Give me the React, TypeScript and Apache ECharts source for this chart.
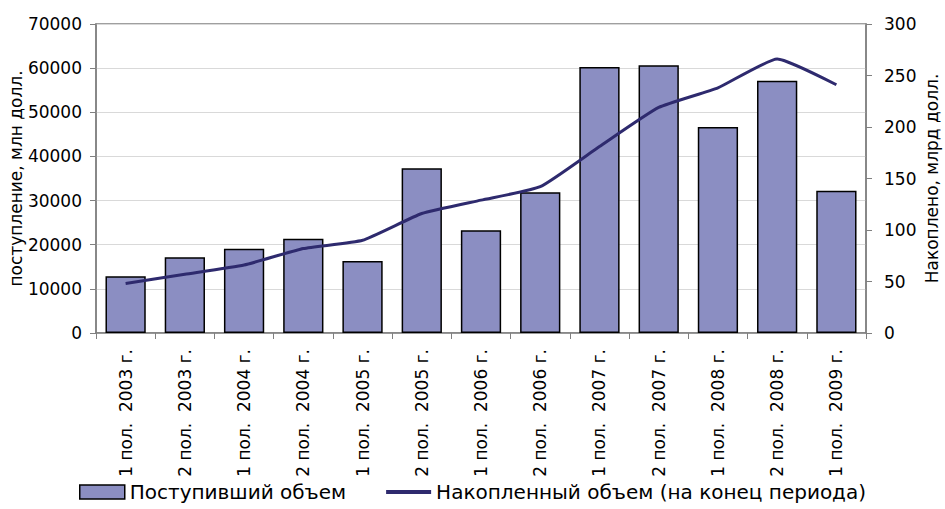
import React, { useEffect, useRef } from "react";
import * as echarts from "echarts";

const categories = [
  "1 пол.  2003 г.", "2 пол.  2003 г.", "1 пол.  2004 г.", "2 пол.  2004 г.",
  "1 пол.  2005 г.", "2 пол.  2005 г.", "1 пол.  2006 г.", "2 пол.  2006 г.",
  "1 пол.  2007 г.", "2 пол.  2007 г.", "1 пол.  2008 г.", "2 пол.  2008 г.",
  "1 пол.  2009 г.",
];
const inflow = [12850, 17150, 19100, 21350, 16300, 37300, 23300, 31900, 60250, 60650, 46650, 57150, 32250];
const accumulated = [48, 57, 66, 82, 90, 116, 129, 142, 181, 219, 238, 266, 241];

const FONT = "DejaVu Sans";
const LINE_ICON = "path://M0,0L0.1,0L0.1,0.1Z M0,5L45,5L45,9L0,9Z M44.9,13.9L45,14L44.9,14Z";

export default function App() {
  const ref = useRef<HTMLDivElement>(null);
  useEffect(() => {
    const chart = echarts.init(ref.current!, null, { renderer: "svg" });
    chart.setOption({
      animation: false,
      textStyle: { fontFamily: FONT, color: "#000" },
      grid: {
        left: 96, right: 79, top: 24, bottom: 176,
        containLabel: false, outerBoundsMode: "none",
        show: true, borderColor: "#808080", borderWidth: 1.5,
      },
      legend: {
        bottom: 2,
        left: "center",
        itemWidth: 45,
        itemHeight: 14,
        itemGap: 40,
        textStyle: { fontFamily: FONT, fontSize: 20, color: "#000" },
        data: [
          { name: "Поступивший объем", icon: "rect", itemStyle: { color: "#8b8ec2", borderColor: "#000", borderWidth: 1.5 } },
          { name: "Накопленный объем (на конец периода)", icon: LINE_ICON, itemStyle: { color: "#2e2a6e", borderWidth: 0 } },
        ],
      },
      xAxis: {
        type: "category",
        data: categories,
        axisLine: { lineStyle: { color: "#808080", width: 1.5 } },
        axisTick: { show: true, alignWithLabel: false, length: 6, lineStyle: { color: "#808080" } },
        axisLabel: { interval: 0, rotate: 90, fontSize: 17, color: "#000", fontFamily: FONT, margin: 16 },
      },
      yAxis: [
        {
          type: "value",
          min: 0,
          max: 70000,
          interval: 10000,
          name: "поступление, млн долл.",
          nameLocation: "middle",
          nameGap: 72,
          nameMoveOverlap: false,
          nameTextStyle: { fontSize: 17, color: "#000", fontFamily: FONT },
          axisLine: { show: true, lineStyle: { color: "#808080", width: 1.5 } },
          axisTick: { show: true, length: 6, lineStyle: { color: "#808080" } },
          axisLabel: { fontSize: 17, color: "#000", fontFamily: FONT, margin: 14, formatter: (v: number) => String(v) },
          splitLine: { lineStyle: { color: "#d9d9d9", width: 1 } },
        },
        {
          type: "value",
          min: 0,
          max: 300,
          interval: 50,
          name: "Накоплено, млрд долл.",
          nameLocation: "middle",
          nameGap: 57,
          nameMoveOverlap: false,
          nameRotate: 90,
          nameTextStyle: { fontSize: 17, color: "#000", fontFamily: FONT },
          axisLine: { show: true, lineStyle: { color: "#808080", width: 1.5 } },
          axisTick: { show: true, length: 6, lineStyle: { color: "#808080" } },
          axisLabel: { fontSize: 17, color: "#000", fontFamily: FONT, margin: 18, formatter: (v: number) => String(v) },
          splitLine: { show: false },
        },
      ],
      series: [
        {
          name: "Поступивший объем",
          type: "bar",
          data: inflow,
          barCategoryGap: "32%",
          itemStyle: { color: "#8b8ec2", borderColor: "#000", borderWidth: 1.5 },
        },
        {
          name: "Накопленный объем (на конец периода)",
          type: "line",
          yAxisIndex: 1,
          data: accumulated,
          smooth: 0.15,
          showSymbol: false,
          symbol: "none",
          lineStyle: { color: "#2e2a6e", width: 3 },
          itemStyle: { color: "#2e2a6e" },
        },
      ],
    });
    return () => chart.dispose();
  }, []);
  return <div ref={ref} style={{ width: 945, height: 509, position: "absolute", left: 0, top: 0 }} />;
}
